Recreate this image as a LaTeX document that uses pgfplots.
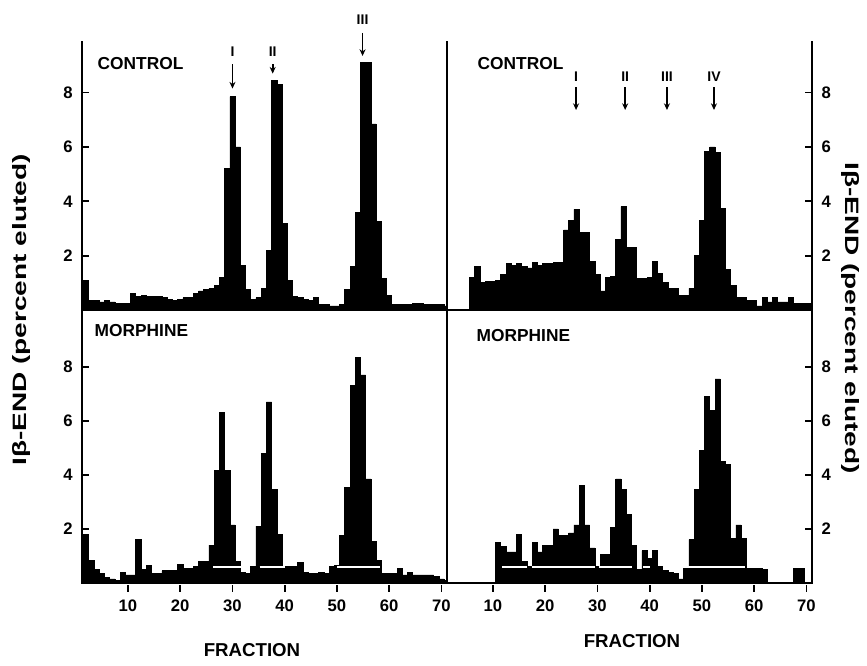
\documentclass[border=0pt]{standalone}
\usepackage{fontspec}
\setmainfont{Liberation Sans}
\usepackage{pgfplots}
\usepackage{pgfplotstable}
\pgfplotsset{compat=1.18}
\usetikzlibrary{arrows.meta}

% fraction, percent eluted
\pgfplotstableread{
x y
0 0.35
1 0.35
2 1.1
3 0.35
4 0.35
5 0.3
6 0.35
7 0.3
8 0.25
9 0.25
10 0.25
11 0.6
12 0.5
13 0.55
14 0.5
15 0.5
16 0.5
17 0.45
18 0.4
19 0.35
20 0.4
21 0.45
22 0.45
23 0.6
24 0.7
25 0.75
26 0.8
27 0.9
28 1.2
29 5.2
30 7.85
31 6.0
32 1.65
33 0.75
34 0.4
35 0.45
36 0.8
37 2.2
38 8.45
39 8.3
40 3.2
41 1.1
42 0.5
43 0.45
44 0.4
45 0.35
46 0.45
47 0.2
48 0.2
49 0.15
50 0.15
51 0.2
52 0.75
53 1.6
54 3.6
55 9.1
56 9.1
57 6.85
58 3.25
59 1.15
60 0.55
61 0.2
62 0.2
63 0.2
64 0.2
65 0.25
66 0.25
67 0.2
68 0.2
69 0.2
70 0.2
71 0.15
72 0.15
}\ctrlA

\pgfplotstableread{
x y
0 0
1 0
2 0
3 0
4 0
5 0
6 1.2
7 1.6
8 1.0
9 1.05
10 1.05
11 1.1
12 1.3
13 1.7
14 1.65
15 1.7
16 1.6
17 1.55
18 1.75
19 1.65
20 1.7
21 1.7
22 1.75
23 1.75
24 2.95
25 3.3
26 3.7
27 2.85
28 2.85
29 1.8
30 1.3
31 0.7
32 1.2
33 1.25
34 2.6
35 3.8
36 2.3
37 2.3
38 1.15
39 1.15
40 1.2
41 1.8
42 1.35
43 1.0
44 0.8
45 0.8
46 0.55
47 0.55
48 0.8
49 2.0
50 3.3
51 5.85
52 6.0
53 5.8
54 3.75
55 1.5
56 0.9
57 0.45
58 0.45
59 0.35
60 0.35
61 0.15
62 0.45
63 0.3
64 0.45
65 0.3
66 0.3
67 0.45
68 0.25
69 0.25
70 0.25
71 0.25
72 0.25
}\ctrlB

\pgfplotstableread{
x y
0 1.0
1 1.0
2 1.8
3 0.85
4 0.5
5 0.35
6 0.2
7 0.15
8 0.1
9 0.4
10 0.3
11 0.3
12 1.6
13 0.5
14 0.65
15 0.35
16 0.35
17 0.45
18 0.45
19 0.45
20 0.7
21 0.55
22 0.55
23 0.6
24 0.8
25 0.8
26 1.4
27 4.15
28 6.3
29 4.15
30 2.15
31 0.8
32 0.4
33 0.35
34 0.6
35 2.1
36 4.8
37 6.7
38 3.45
39 1.8
40 0.6
41 0.6
42 0.6
43 0.75
44 0.4
45 0.35
46 0.35
47 0.4
48 0.35
49 0.6
50 0.65
51 1.75
52 3.55
53 7.3
54 8.35
55 7.7
56 3.85
57 1.55
58 0.85
59 0.35
60 0.35
61 0.35
62 0.55
63 0.3
64 0.4
65 0.3
66 0.3
67 0.3
68 0.3
69 0.25
70 0.15
71 0.1
72 0.1
}\morphA

\pgfplotstableread{
x y
0 0
1 0
2 0
3 0
4 0
5 0
6 0
7 0
8 0
9 0
10 0
11 1.5
12 1.35
13 1.15
14 1.15
15 1.8
16 0.8
17 0.6
18 1.5
19 1.15
20 1.4
21 1.4
22 2.0
23 1.75
24 1.75
25 1.85
26 2.15
27 3.6
28 2.15
29 1.3
30 0.6
31 1.05
32 1.05
33 2.05
34 3.85
35 3.45
36 2.55
37 1.4
38 0.5
39 1.2
40 0.9
41 1.2
42 0.6
43 0.45
44 0.4
45 0.35
46 0.15
47 0.55
48 1.6
49 3.45
50 4.9
51 6.9
52 6.4
53 7.55
54 4.5
55 4.4
56 1.65
57 2.15
58 1.65
59 0.55
60 0.55
61 0.55
62 0.5
63 0
64 0
65 0
66 0
67 0
68 0.55
69 0.55
70 0
71 0
72 0
}\morphB

\pgfplotsset{
  panel/.style={
    scale only axis, width=273.5pt,
    xmin=1.2, xmax=71, ymin=0,
    clip mode=individual,
    axis line style={line width=1.4pt,-},
    tick style={line width=1.3pt, black},
    major tick length=5pt,
    tick align=inside,
    ytick={2,4,6,8},
    /pgf/number format/assume math mode=true,
    ticklabel style={font=\fontsize{12.5}{14}\selectfont\bfseries},
  },
  hist/.style={const plot mark mid, fill=black, draw=black, line width=0.5pt},
  nsb/.style={white, line width=1.1pt},
}
\tikzset{
  roman/.style={font=\fontsize{10.5}{12}\selectfont\bfseries},
  arr/.style={line width=1.3pt, -{Stealth[length=5pt,width=4.5pt]}},
}

\begin{document}
\begin{tikzpicture}
\path[use as bounding box] (0,0) rectangle (650.25pt,499.5pt);

% top left: control
\begin{axis}[panel, at={(61.5pt,267pt)}, anchor=south west, height=201.75pt, ymax=9.9,
  axis x line*=bottom, axis y line*=box, xtick=\empty, ytick pos=left,
  yticklabel style={xshift=-3.5pt}]
\addplot[hist] table {\ctrlA} \closedcycle;
\node[roman] at (axis cs:30,9.5) {I};
\draw[arr] (axis cs:30,9.05) -- (axis cs:30,8.15);
\node[roman] at (axis cs:37.7,9.5) {II};
\draw[arr] (axis cs:37.7,9.05) -- (axis cs:37.7,8.7);
\node[roman] at (axis cs:54.9,10.7) {III};
\draw[arr] (axis cs:54.9,10.2) -- (axis cs:54.9,9.35);
\end{axis}

% top right: control
\begin{axis}[panel, at={(335.25pt,267pt)}, anchor=south west, height=201.75pt, ymax=9.9,
  axis x line*=bottom, axis y line*=box, xtick=\empty, ytick pos=right,
  yticklabel style={xshift=4pt}]
\addplot[hist] table {\ctrlB} \closedcycle;
\node[roman] at (axis cs:25.9,8.58) {I};
\draw[arr] (axis cs:25.9,8.2) -- (axis cs:25.9,7.36);
\node[roman] at (axis cs:35.3,8.58) {II};
\draw[arr] (axis cs:35.3,8.2) -- (axis cs:35.3,7.36);
\node[roman] at (axis cs:43.3,8.58) {III};
\draw[arr] (axis cs:43.3,8.2) -- (axis cs:43.3,7.36);
\node[roman] at (axis cs:52.3,8.58) {IV};
\draw[arr] (axis cs:52.3,8.2) -- (axis cs:52.3,7.36);
\end{axis}

% bottom left: morphine
\begin{axis}[panel, at={(61.5pt,62.25pt)}, anchor=south west, height=204.75pt, ymax=10.1,
  xtick={10,20,...,70}, xtick pos=bottom, ytick pos=left,
  xtick style={yshift=-6.5pt},
  xticklabel style={yshift=-9pt},
  yticklabel style={xshift=-3.5pt}]
\addplot[hist] table {\morphA} \closedcycle;
\addplot[nsb] coordinates {(26.3,0.6) (31.8,0.6)};
\addplot[nsb] coordinates {(35.2,0.6) (40,0.6)};
\addplot[nsb] coordinates {(50.1,0.6) (58.2,0.6)};
\end{axis}

% bottom right: morphine
\begin{axis}[panel, at={(335.25pt,62.25pt)}, anchor=south west, height=204.75pt, ymax=10.1,
  xtick={10,20,...,70}, xtick pos=bottom, ytick pos=right,
  xtick style={yshift=-6.5pt},
  xticklabel style={yshift=-9pt},
  yticklabel style={xshift=4pt}]
\addplot[hist] table {\morphB} \closedcycle;
\addplot[nsb] coordinates {(11.7,0.6) (16.5,0.6)};
\addplot[nsb] coordinates {(17.4,0.6) (29.5,0.6)};
\addplot[nsb] coordinates {(30.2,0.6) (36.6,0.6)};
\addplot[nsb] coordinates {(38.8,0.6) (40.1,0.6)};
\addplot[nsb] coordinates {(47.4,0.6) (58.3,0.6)};
\end{axis}

% panel labels
\node[anchor=west, font=\fontsize{13}{15}\selectfont\bfseries] at (69.75pt,451.5pt) {CONTROL};
\node[anchor=west, font=\fontsize{13}{15}\selectfont\bfseries] at (354.75pt,451.5pt) {CONTROL};
\node[anchor=west, font=\fontsize{13}{15}\selectfont\bfseries] at (67.5pt,251.25pt) {MORPHINE};
\node[anchor=west, font=\fontsize{13}{15}\selectfont\bfseries] at (354pt,247.5pt) {MORPHINE};

% axis titles
\node[font=\fontsize{14}{16}\selectfont\bfseries] at (189pt,12pt) {FRACTION};
\node[font=\fontsize{14}{16}\selectfont\bfseries] at (474pt,18.75pt) {FRACTION};
\node[rotate=90, font=\fontsize{14.5}{16}\selectfont\bfseries] at (16pt,267pt) {\scalebox{1.45}[1]{Iβ-END (percent eluted)}};
\node[rotate=-90, font=\fontsize{14.5}{16}\selectfont\bfseries] at (638pt,261pt) {\scalebox{1.45}[1]{Iβ-END (percent eluted)}};
\end{tikzpicture}
\end{document}
